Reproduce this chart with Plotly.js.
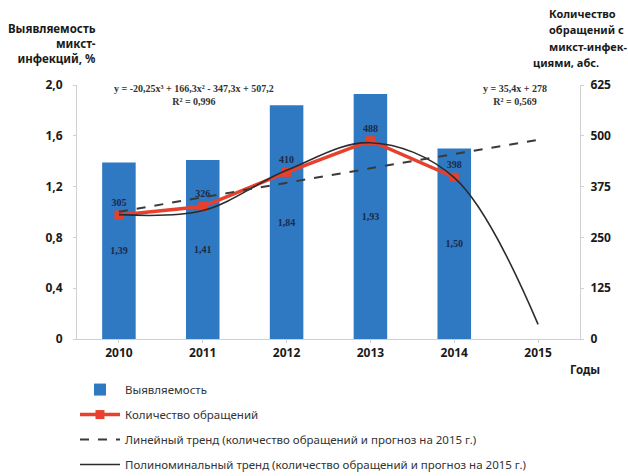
<!DOCTYPE html>
<html>
<head>
<meta charset="utf-8">
<script src="https://cdn.plot.ly/plotly-3.0.1.min.js"></script>
<style>html,body{margin:0;padding:0;background:#fff;}#chart{width:628px;height:476px;}</style>
</head>
<body>
<div id="chart"></div>
<script>
// ---- data ----
const years = ['2010', '2011', '2012', '2013', '2014', '2015'];
const barYears = ['2010', '2011', '2012', '2013', '2014'];
const detection = [1.39, 1.41, 1.84, 1.93, 1.50];          // Выявляемость, %
const detectionLabels = ['1,39', '1,41', '1,84', '1,93', '1,50'];
const requests = [305, 326, 410, 488, 398];                // Количество обращений
const linearTrend = [313, 349, 384, 420, 455, 490];        // линейный тренд
const polyTrend = [306, 316, 415, 483, 397, 36];           // полиномиальный тренд
const leftTicks = [0, 0.4, 0.8, 1.2, 1.6, 2.0];
const leftTickText = ['0', '0,4', '0,8', '1,2', '1,6', '2,0'];
const rightTicks = [0, 125, 250, 375, 500, 625];
const rightTitleLines = ['Количество', 'обращений с', 'микст-инфек-', 'циями, абс.'];

const sans = 'Noto Sans, Open Sans, DejaVu Sans, sans-serif';
const serif = 'Liberation Serif, DejaVu Serif, serif';

const traces = [
  {
    type: 'bar', x: barYears, y: detection, name: 'Выявляемость',
    marker: {color: '#2f79c2'}, width: 0.4,
    text: detectionLabels, textposition: 'inside', insidetextanchor: 'middle',
    textfont: {family: serif, size: 10, color: '#1c2a45', weight: 'bold'},
    legendrank: 1, legendgroup: 'a', hoverinfo: 'none'
  },
  {
    type: 'scatter', mode: 'lines+markers+text', x: barYears, y: requests, yaxis: 'y2',
    name: 'Количество обращений',
    line: {color: '#e8402e', width: 3.5},
    marker: {symbol: 'square', size: 9, color: '#e8402e'},
    text: requests.map(String), textposition: 'top center',
    textfont: {family: serif, size: 10, color: '#1c2a45', weight: 'bold'},
    legendrank: 2, legendgroup: 'b', hoverinfo: 'none'
  },
  {
    type: 'scatter', mode: 'lines', x: years, y: polyTrend, yaxis: 'y2',
    name: 'Полиноминальный тренд (количество обращений и прогноз на 2015 г.)',
    line: {color: '#2b2b2b', width: 1.6, shape: 'spline', smoothing: 1},
    legendrank: 4, legendgroup: 'd', hoverinfo: 'none'
  },
  {
    type: 'scatter', mode: 'lines', x: years, y: linearTrend, yaxis: 'y2',
    name: 'Линейный тренд (количество обращений и прогноз на 2015 г.)',
    line: {color: '#3a3a3a', width: 2, dash: 'dash'},
    legendrank: 3, legendgroup: 'c', hoverinfo: 'none'
  }
];

const axisColor = '#d0d0d0';
const tickFont = {family: sans, size: 12, color: '#1a1a1a', weight: 'bold'};
const titleFont = {family: sans, size: 11.5, color: '#1a1a1a', weight: 'bold'};

const annotations = [
  {xref: 'paper', yref: 'paper', x: 21 / 503, y: 1.067, xanchor: 'right', yanchor: 'bottom', align: 'right',
   showarrow: false, text: 'Выявляемость<br>микст-<br>инфекций, %', font: titleFont},
  {xref: 'paper', yref: 'paper', x: 508 / 503, y: -0.122, xanchor: 'center', yanchor: 'middle',
   showarrow: false, text: 'Годы', font: titleFont},
  {xref: 'paper', yref: 'paper', x: 117 / 503, y: 0.96, xanchor: 'center', yanchor: 'middle',
   showarrow: false, text: 'y = -20,25x³ + 166,3x² - 347,3x + 507,2<br>R² = 0,996',
   font: {family: serif, size: 10, color: '#333333', weight: 'bold'}},
  {xref: 'paper', yref: 'paper', x: 438 / 503, y: 0.96, xanchor: 'center', yanchor: 'middle',
   showarrow: false, text: 'y = 35,4x + 278<br>R² = 0,569',
   font: {family: serif, size: 10, color: '#333333', weight: 'bold'}}
];
rightTitleLines.forEach(function (line, i) {
  annotations.push({
    xref: 'paper', yref: 'paper', x: 470 / 503, y: (339 - 13 - i * 16.5) / 254,
    xanchor: 'left', yanchor: 'middle', align: 'left', showarrow: false,
    xshift: i === 3 ? -16 : 0,
    text: line, font: {family: sans, size: 11, color: '#1a1a1a', weight: 'bold'}
  });
});

const layout = {
  width: 628, height: 476,
  margin: {l: 77, r: 48, t: 85, b: 137, autoexpand: false},
  paper_bgcolor: '#ffffff', plot_bgcolor: '#ffffff',
  showlegend: true,
  bargap: 0.6,
  xaxis: {
    type: 'category', categoryorder: 'array', categoryarray: years,
    range: [-0.5, 5.5],
    showline: true, linecolor: axisColor, linewidth: 1,
    ticks: 'outside', ticklen: 3, tickcolor: axisColor,
    tickfont: tickFont, showgrid: false, zeroline: false, fixedrange: true
  },
  yaxis: {
    range: [0, 2.0], tickvals: leftTicks, ticktext: leftTickText,
    showline: true, linecolor: axisColor, linewidth: 1,
    ticks: 'outside', ticklen: 3, tickcolor: axisColor,
    tickfont: tickFont, ticklabelstandoff: 8, showgrid: false, zeroline: false
  },
  yaxis2: {
    overlaying: 'y', side: 'right', range: [0, 625], tickvals: rightTicks,
    showline: true, linecolor: axisColor, linewidth: 1,
    ticks: 'outside', ticklen: 3, tickcolor: axisColor,
    tickfont: tickFont, ticklabelstandoff: 4, showgrid: false, zeroline: false
  },
  legend: {
    x: -0.004, xanchor: 'left', y: -0.142, yanchor: 'top',
    orientation: 'v', traceorder: 'grouped', tracegroupgap: 6,
    font: {family: sans, size: 11.5, color: '#333333'},
    itemwidth: 40, bgcolor: 'rgba(0,0,0,0)'
  },
  annotations: annotations
};

Plotly.newPlot('chart', traces, layout, {displayModeBar: false, staticPlot: true});
</script>
</body>
</html>
